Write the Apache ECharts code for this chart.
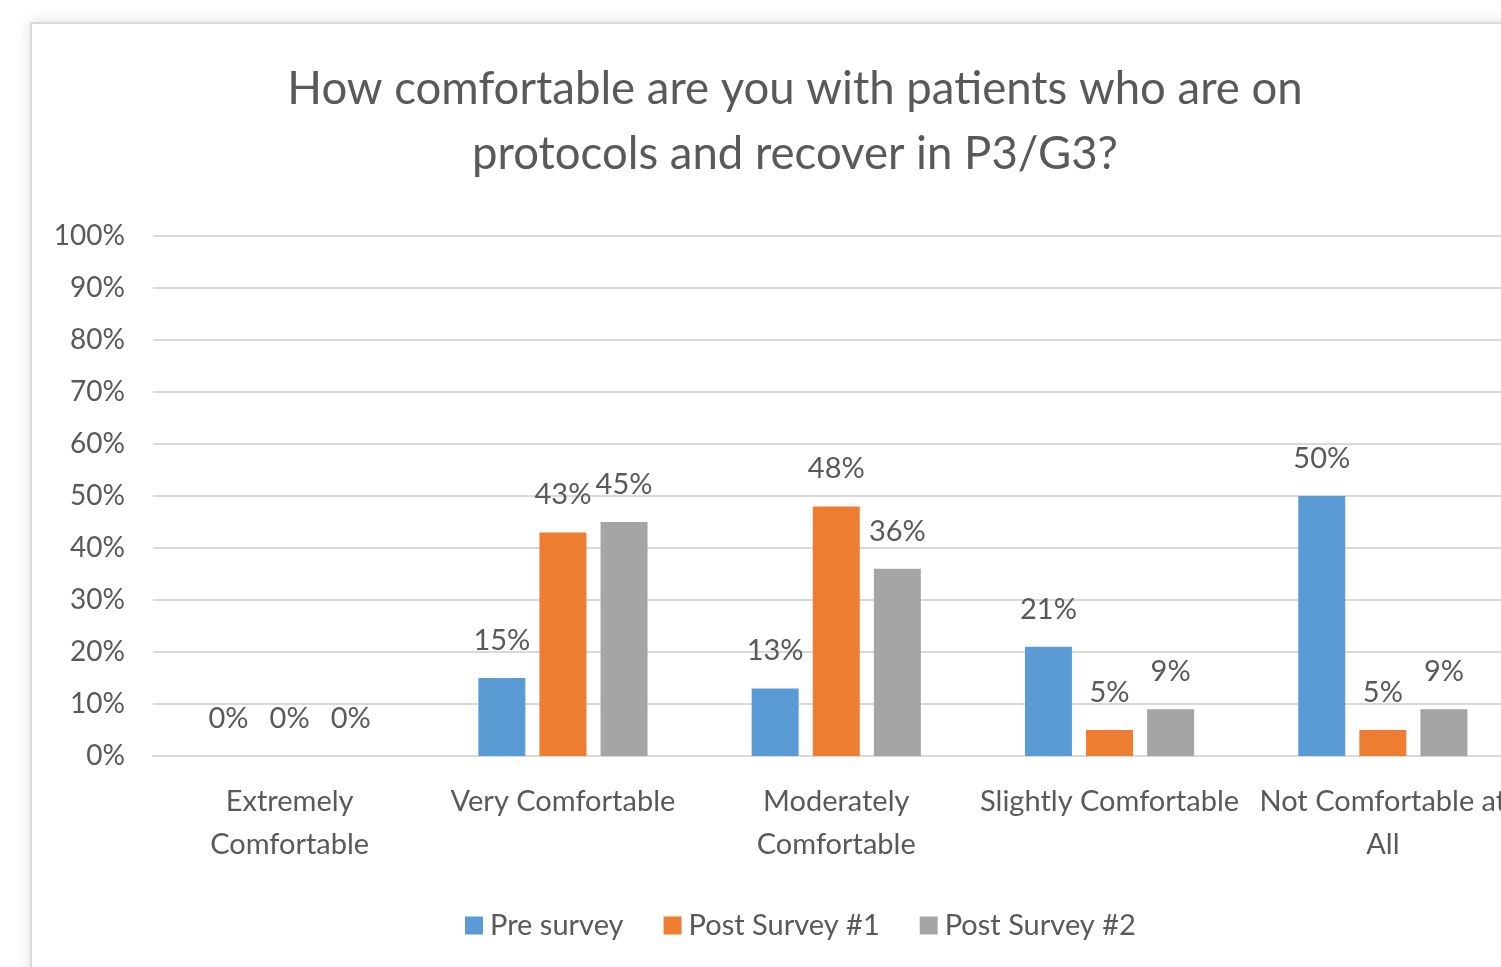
<!DOCTYPE html>
<html>
<head>
<meta charset="utf-8">
<script src="https://cdn.jsdelivr.net/npm/echarts@6/dist/echarts.min.js"></script>
<style>
  html, body { margin: 0; padding: 0; width: 1501px; height: 967px; overflow: hidden; background: #ffffff; }
  #frame { position: absolute; left: 30px; top: 22px; width: 1530px; height: 1000px;
           border: 2px solid #d9d9d9; box-sizing: border-box; background: #fff;
           box-shadow: 0 0 14px rgba(0,0,0,0.13); }
  #chart { position: absolute; left: -2px; top: -2px; width: 1530px; height: 1000px; }
</style>
</head>
<body>
<div id="frame"><div id="chart"></div></div>
<script>
const titleText = 'How comfortable are you with patients who are on\nprotocols and recover in P3/G3?';
const categories = ['Extremely\nComfortable', 'Very Comfortable', 'Moderately\nComfortable', 'Slightly Comfortable', 'Not Comfortable at\nAll'];
const seriesNames = ['Pre survey', 'Post Survey #1', 'Post Survey #2'];
const preSurvey = [0, 15, 13, 21, 50];
const postSurvey1 = [0, 43, 48, 5, 5];
const postSurvey2 = [0, 45, 36, 9, 9];
const colors = ['#5B9BD5', '#ED7D31', '#A5A5A5'];

const FONT = 'Lato';
const TXT = '#595959';
const seriesData = [preSurvey, postSurvey1, postSurvey2];

const chart = echarts.init(document.getElementById('chart'), null, { renderer: 'canvas' });
chart.setOption({
  animation: false,
  color: colors,
  title: {
    text: titleText,
    left: 'center',
    top: 30,
    textStyle: { fontFamily: FONT, fontSize: 45.5, fontWeight: 'normal', color: TXT, lineHeight: 65 }
  },
  legend: {
    data: seriesNames,
    left: 430,
    top: 884,
    icon: 'rect',
    itemWidth: 18,
    itemHeight: 18,
    itemGap: 40,
    textStyle: { fontFamily: FONT, fontSize: 29, color: TXT, padding: [0, 0, 0, 2] }
  },
  grid: { left: 123, top: 214, width: 1366.5, height: 520, containLabel: false },
  xAxis: {
    type: 'category',
    data: categories,
    axisTick: { show: false },
    axisLine: { lineStyle: { color: '#d9d9d9', width: 2 } },
    axisLabel: { fontFamily: FONT, fontSize: 29, color: TXT, margin: 24, lineHeight: 43, interval: 0 }
  },
  yAxis: {
    type: 'value',
    min: 0, max: 100, interval: 10,
    axisLine: { show: false },
    axisTick: { show: false },
    splitLine: { lineStyle: { color: '#d9d9d9', width: 2 } },
    axisLabel: { formatter: '{value}%', fontFamily: FONT, fontSize: 28, color: TXT, margin: 28 }
  },
  series: seriesNames.map((name, i) => ({
    name: name,
    type: 'bar',
    data: seriesData[i],
    barWidth: 47,
    barGap: '30%',
    label: {
      show: true,
      position: 'top',
      distance: 23,
      formatter: '{c}%',
      fontFamily: FONT, fontSize: 29, color: TXT
    }
  }))
});
</script>
</body>
</html>
